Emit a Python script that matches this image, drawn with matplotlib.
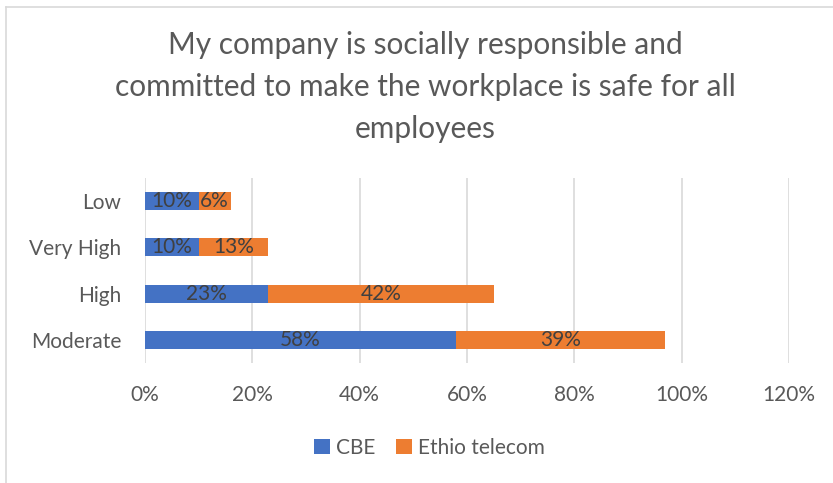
import matplotlib.pyplot as plt
from matplotlib.lines import Line2D
from matplotlib.ticker import FuncFormatter

# Survey responses, bottom to top
categories = ["Moderate", "High", "Very High", "Low"]
cbe = [58, 23, 10, 10]
ethio = [39, 42, 13, 6]
series_names = ["CBE", "Ethio telecom"]
x_ticks = [0, 20, 40, 60, 80, 100, 120]

blue = "#4472c4"
orange = "#ed7d31"
grey_text = "#595959"

plt.rcParams['font.family'] = ['Lato', 'DejaVu Sans']

fig = plt.figure(figsize=(8.33, 4.83), dpi=100)
ax = fig.add_axes([0.174, 0.2484, 0.773, 0.3831])

y = range(len(categories))
bars1 = ax.barh(y, cbe, height=0.39, color=blue, label=series_names[0], zorder=3)
bars2 = ax.barh(y, ethio, left=cbe, height=0.39, color=orange, label=series_names[1], zorder=3)

for bars, vals in ((bars1, cbe), (bars2, ethio)):
    ax.bar_label(bars, labels=[f"{v}%" for v in vals], label_type='center',
                 color="#404040", fontsize=15)

ax.set_xlim(0, 120)
ax.set_ylim(-0.5, 3.5)
ax.set_xticks(x_ticks)
ax.xaxis.set_major_formatter(FuncFormatter(lambda v, p: f"{v:.0f}%"))
ax.set_yticks(list(y))
ax.set_yticklabels(categories)
ax.tick_params(axis='both', length=0, labelsize=15, labelcolor=grey_text)
ax.tick_params(axis='x', pad=16)
ax.tick_params(axis='y', pad=17)
ax.grid(axis='x', color="#d9d9d9", linewidth=1.2, zorder=0)
for s in ax.spines.values():
    s.set_visible(False)

fig.text(0.511, 0.82, "My company is socially responsible and\n"
         "committed to make the workplace is safe for all\nemployees",
         ha='center', va='center', fontsize=21.5, color=grey_text, linespacing=1.6)

fig.legend(loc='center', bbox_to_anchor=(0.516, 0.073), ncol=2, frameon=False,
           fontsize=15, labelcolor=grey_text, handlelength=0.75, handleheight=0.75,
           handletextpad=0.3, columnspacing=1.0)

# chart area border (left and top edges)
fig.add_artist(Line2D([6 / 833, 6 / 833], [0, 1 - 7 / 483], color="#d9d9d9", lw=1.2,
                      transform=fig.transFigure))
fig.add_artist(Line2D([6 / 833, 1], [1 - 7 / 483, 1 - 7 / 483], color="#d9d9d9", lw=1.2,
                      transform=fig.transFigure))

fig.savefig("out.png", dpi=100)
